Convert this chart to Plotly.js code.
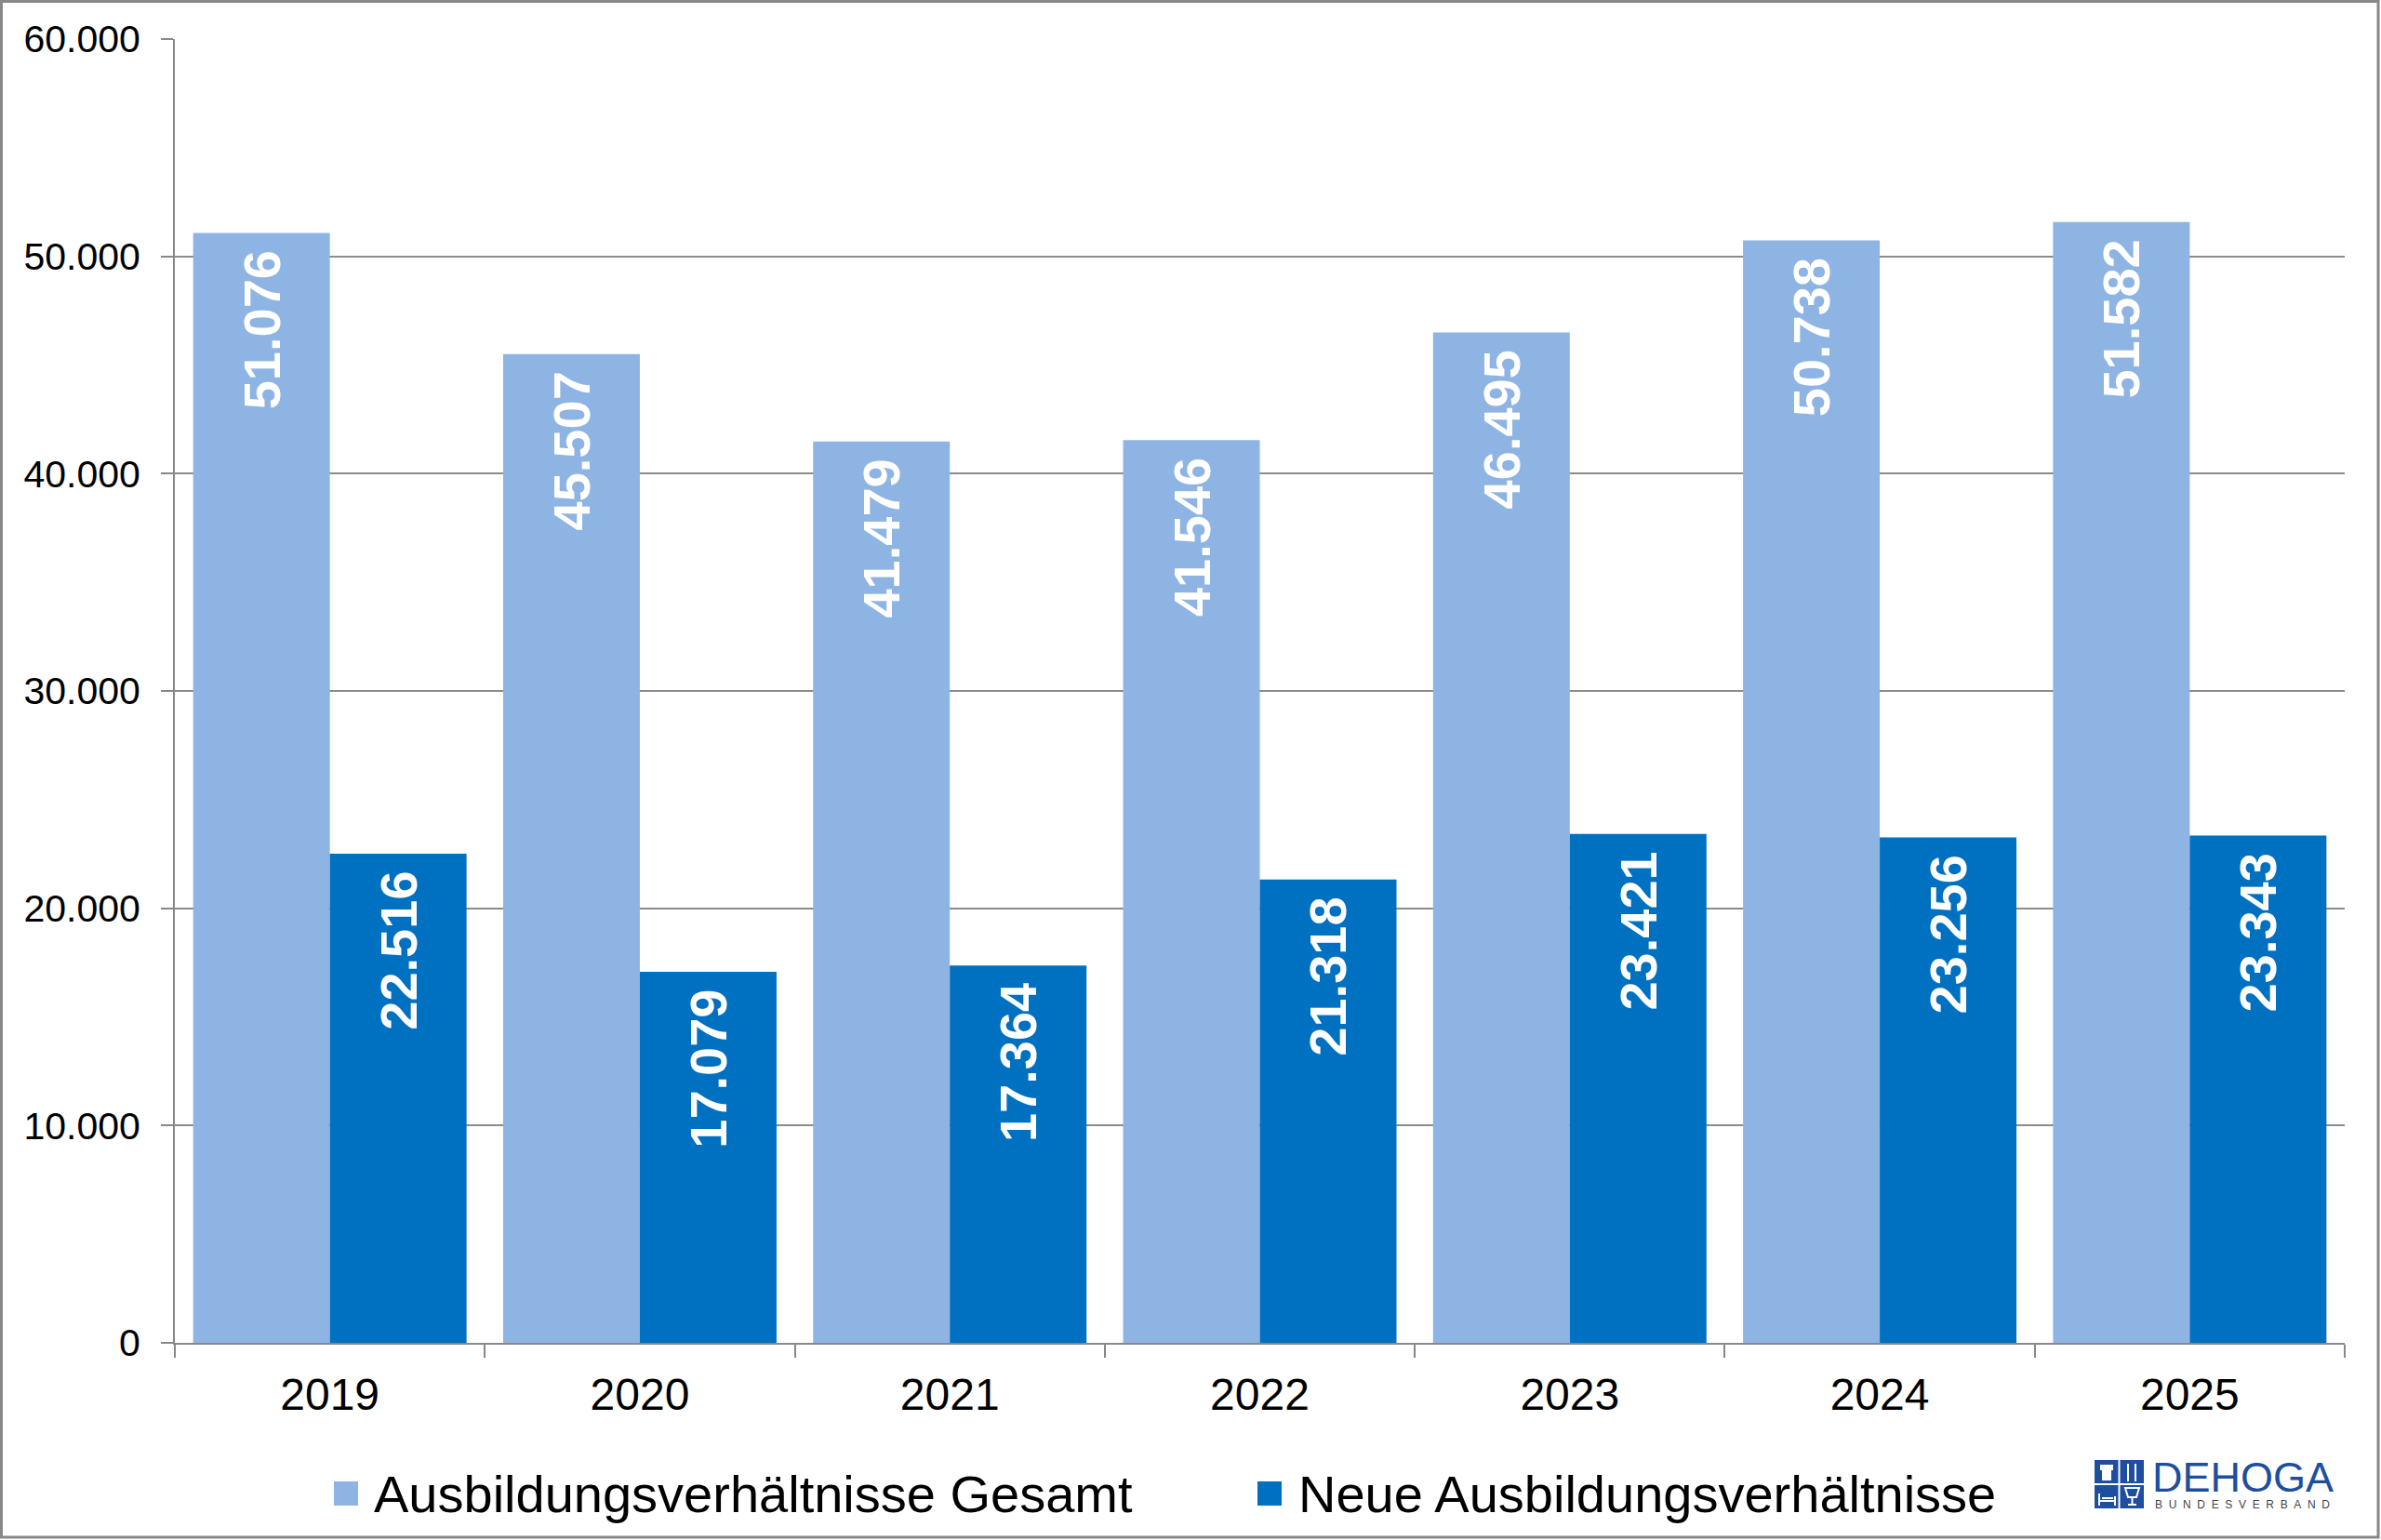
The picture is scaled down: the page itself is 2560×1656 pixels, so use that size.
<!DOCTYPE html>
<html>
<head>
<meta charset="utf-8">
<script src="https://cdn.plot.ly/plotly-3.0.1.min.js"></script>
<style>
  html, body { margin: 0; padding: 0; background: #fff; }
  #chart { width: 2560px; height: 1656px; }
</style>
</head>
<body>
<div id="chart"></div>
<script>
// data
const years = ['2019', '2020', '2021', '2022', '2023', '2024', '2025'];
const totalValues = [51076, 45507, 41479, 41546, 46495, 50738, 51582];
const newValues = [22516, 17079, 17364, 21318, 23421, 23256, 23343];
const seriesNames = ['Ausbildungsverhältnisse Gesamt', 'Neue Ausbildungsverhältnisse'];
const seriesColors = ['#8EB4E3', '#0070C0'];
const yTickVals = [0, 10000, 20000, 30000, 40000, 50000, 60000];

const FONT = 'Liberation Sans, Arial, sans-serif';

// plot area in page pixels
const L = 188, R = 2521, T = 42, B = 1444;
const fx = (x) => (x - L) / (R - L);
const fy = (y) => (B - y) / (B - T);

function barTrace(name, values, color) {
  return {
    type: 'bar',
    name: name,
    x: years,
    y: values,
    marker: { color: color, line: { width: 0 } },
    texttemplate: '%{y:,.0f}\u00a0',
    textposition: 'inside',
    insidetextanchor: 'end',
    textangle: -90,
    textfont: { family: FONT, size: 56, color: '#fff', weight: 'bold' },
    hoverinfo: 'x+y',
    showlegend: false
  };
}

const data = [
  barTrace(seriesNames[0], totalValues, seriesColors[0]),
  barTrace(seriesNames[1], newValues, seriesColors[1])
];

// legend drawn by hand so the swatches match the original size
const legendX = [[359, 400], [1352, 1394]];
const shapes = [];
const annotations = [];
seriesNames.forEach((name, i) => {
  const [sx, tx] = legendX[i];
  shapes.push({
    type: 'rect', xref: 'paper', yref: 'paper',
    x0: fx(sx), x1: fx(sx + 26), y0: fy(1619), y1: fy(1593),
    fillcolor: seriesColors[i], line: { width: 0 }
  });
  annotations.push({
    xref: 'paper', yref: 'paper', x: fx(tx), y: fy(1606),
    xanchor: 'left', yanchor: 'middle', showarrow: false,
    text: name, font: { family: FONT, size: 56, color: '#000' }
  });
});

// outer frame
shapes.push({
  type: 'rect', xref: 'paper', yref: 'paper',
  x0: fx(1.5), x1: fx(2557), y0: fy(1653), y1: fy(1.5),
  line: { color: '#888', width: 3 }, fillcolor: 'rgba(0,0,0,0)'
});

// DEHOGA logo
const logoBlue = '#1E4E9E';
const lx0 = 2252, lx1 = 2305, ly0 = 1570, ly1 = 1622;
shapes.push({
  type: 'rect', xref: 'paper', yref: 'paper',
  x0: fx(lx0), x1: fx(lx1), y0: fy(ly1), y1: fy(ly0),
  fillcolor: logoBlue, line: { width: 0 }
});
const pth = (pts) => 'M' + pts.map(([x, y]) => fx(x) + ',' + fy(y)).join('L');
const white = { color: '#fff', width: 2 };
shapes.push(
  { type: 'path', xref: 'paper', yref: 'paper', path: pth([[2278.5, ly0], [2278.5, ly1]]), line: white },
  { type: 'path', xref: 'paper', yref: 'paper', path: pth([[lx0, 1596], [lx1, 1596]]), line: white },
  // chef hat
  { type: 'path', xref: 'paper', yref: 'paper',
    path: pth([[2258, 1575], [2272, 1575], [2272, 1581], [2270, 1581], [2270, 1592], [2260, 1592], [2260, 1581], [2258, 1581]]) + 'Z',
    fillcolor: '#fff', line: { width: 0 } },
  // fork and knife
  { type: 'path', xref: 'paper', yref: 'paper', path: pth([[2288, 1574], [2288, 1593]]), line: white },
  { type: 'path', xref: 'paper', yref: 'paper', path: pth([[2296, 1574], [2296, 1593]]), line: white },
  // bed
  { type: 'path', xref: 'paper', yref: 'paper',
    path: pth([[2257, 1619], [2257, 1606]]) + pth([[2257, 1614], [2274, 1614]]) + pth([[2274, 1619], [2274, 1609]]) + pth([[2260, 1611], [2272, 1611]]),
    line: white },
  // glass
  { type: 'path', xref: 'paper', yref: 'paper',
    path: pth([[2285, 1600], [2300, 1600], [2297, 1610], [2288, 1610]]) + 'Z' + pth([[2292.5, 1610], [2292.5, 1618]]) + pth([[2288, 1618], [2297, 1618]]),
    line: white }
);
annotations.push(
  { xref: 'paper', yref: 'paper', x: fx(2312), y: fy(1588), xanchor: 'left', yanchor: 'middle',
    showarrow: false, text: 'DEHOGA', font: { family: FONT, size: 45, color: logoBlue } },
  { xref: 'paper', yref: 'paper', x: fx(2315), y: fy(1618), xanchor: 'left', yanchor: 'middle',
    showarrow: false, text: 'BUNDESVERBAND'.split('').join('\u00a0\u00a0'),
    font: { family: FONT, size: 12, color: '#444' } }
);

const layout = {
  width: 2560,
  height: 1656,
  margin: { l: L, r: 2560 - R, t: T, b: 1656 - B, pad: 0 },
  paper_bgcolor: '#fff',
  plot_bgcolor: '#fff',
  separators: ',.',
  barmode: 'group',
  bargap: 0.118,
  bargroupgap: 0,
  showlegend: false,
  font: { family: FONT, color: '#000' },
  xaxis: {
    type: 'category',
    showline: true, linecolor: '#888', linewidth: 2,
    ticks: 'outside', tickson: 'boundaries', ticklen: 14, tickwidth: 2, tickcolor: '#888',
    tickfont: { family: FONT, size: 48, color: '#000' },
    ticklabelstandoff: 12,
    showgrid: false
  },
  yaxis: {
    range: [0, 60000],
    tickvals: yTickVals,
    tickformat: ',.0f',
    showline: true, linecolor: '#888', linewidth: 2,
    ticks: 'outside', ticklen: 13, tickwidth: 2, tickcolor: '#888',
    tickfont: { family: FONT, size: 41, color: '#000' },
    ticklabelstandoff: 14,
    showgrid: true, gridcolor: '#8C8C8C', gridwidth: 2,
    zeroline: false
  },
  shapes: shapes,
  annotations: annotations
};

Plotly.newPlot('chart', data, layout, { displayModeBar: false, staticPlot: true });
</script>
</body>
</html>
